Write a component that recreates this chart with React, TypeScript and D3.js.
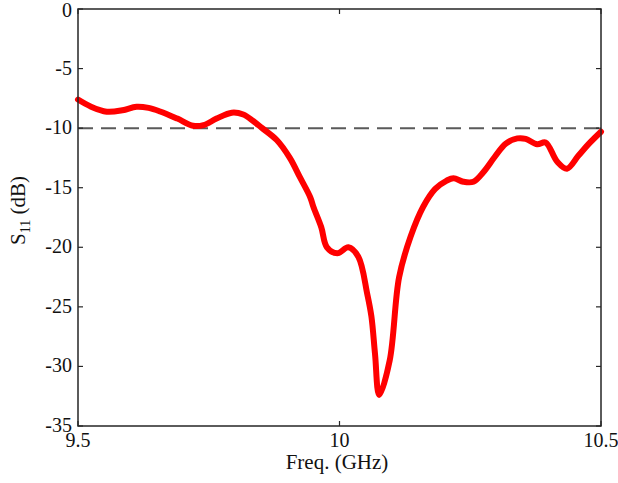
import React from "react";
import * as d3 from "d3";

const freq = [9.5, 9.525, 9.555, 9.585, 9.612, 9.635, 9.657, 9.69, 9.72, 9.74, 9.765, 9.794, 9.816, 9.835, 9.851, 9.88, 9.905, 9.924, 9.944, 9.95, 9.965, 9.976, 9.996, 10.017, 10.036, 10.053, 10.061, 10.068, 10.076, 10.096, 10.114, 10.136, 10.16, 10.183, 10.205, 10.218, 10.237, 10.256, 10.275, 10.297, 10.318, 10.34, 10.356, 10.378, 10.394, 10.416, 10.435, 10.457, 10.477, 10.5];
const s11 = [-7.6, -8.2, -8.62, -8.5, -8.2, -8.3, -8.6, -9.2, -9.8, -9.75, -9.2, -8.7, -8.85, -9.4, -9.96, -11, -12.5, -14.1, -15.8, -16.6, -18.3, -20.0, -20.5, -20.0, -20.8, -23.9, -25.8, -29, -32.4, -29.5, -22.5, -19.1, -16.6, -15.1, -14.4, -14.2, -14.5, -14.5, -13.7, -12.4, -11.3, -10.86, -10.9, -11.36, -11.2, -12.8, -13.4, -12.3, -11.3, -10.3];
const xTicks = [9.5, 10, 10.5];
const xTickLabels = ["9.5", "10", "10.5"];
const yTicks = [0, -5, -10, -15, -20, -25, -30, -35];
const threshold = -10;

export default function App() {
  const W = 618, H = 483;
  const L = 78, R = 601, T = 9, B = 426;
  const x = d3.scaleLinear().domain([9.5, 10.5]).range([L, R]);
  const y = d3.scaleLinear().domain([-35, 0]).range([B, T]);
  const line = d3.line<number>().x((_, i) => x(freq[i])).y((d) => y(d)).curve(d3.curveCatmullRom.alpha(0.5));
  const font = "'Liberation Serif', 'Times New Roman', serif";
  const axisColor = "#262626";
  return (
    <svg width={W} height={H} style={{ position: "absolute", left: 0, top: 0, background: "#fff" }}>
      <rect x={0} y={0} width={W} height={H} fill="#fff" />
      <line x1={L} x2={R} y1={y(threshold)} y2={y(threshold)} stroke="#5a5a5a" strokeWidth={2} strokeDasharray="15,8" />
      <path d={line(s11) || ""} fill="none" stroke="#ff0000" strokeWidth={6} strokeLinejoin="round" strokeLinecap="round" />
      <rect x={L} y={T} width={R - L} height={B - T} fill="none" stroke={axisColor} strokeWidth={1.5} />
      {yTicks.map((t) => (
        <g key={"y" + t}>
          <line x1={L} x2={L + 5} y1={y(t)} y2={y(t)} stroke={axisColor} strokeWidth={1.2} />
          <line x1={R} x2={R - 5} y1={y(t)} y2={y(t)} stroke={axisColor} strokeWidth={1.2} />
          <text x={L - 6} y={Math.max(y(t) + 6, 17)} textAnchor="end" fontFamily={font} fontSize={20} fill="#111">{t}</text>
        </g>
      ))}
      {xTicks.map((t, i) => (
        <g key={"x" + t}>
          <line x1={x(t)} x2={x(t)} y1={B} y2={B - 5} stroke={axisColor} strokeWidth={1.2} />
          <line x1={x(t)} x2={x(t)} y1={T} y2={T + 5} stroke={axisColor} strokeWidth={1.2} />
          <text x={x(t)} y={B + 21} textAnchor="middle" fontFamily={font} fontSize={20} fill="#111">{xTickLabels[i]}</text>
        </g>
      ))}
      <text x={337} y={469} textAnchor="middle" fontFamily={font} fontSize={21} fill="#111">Freq. (GHz)</text>
      <text transform={`translate(25, 245) rotate(-90)`} textAnchor="start" fontFamily={font} fontSize={21} fill="#111">
        S<tspan fontSize={14} dy={5}>11</tspan><tspan dy={-5}> (dB)</tspan>
      </text>
    </svg>
  );
}
